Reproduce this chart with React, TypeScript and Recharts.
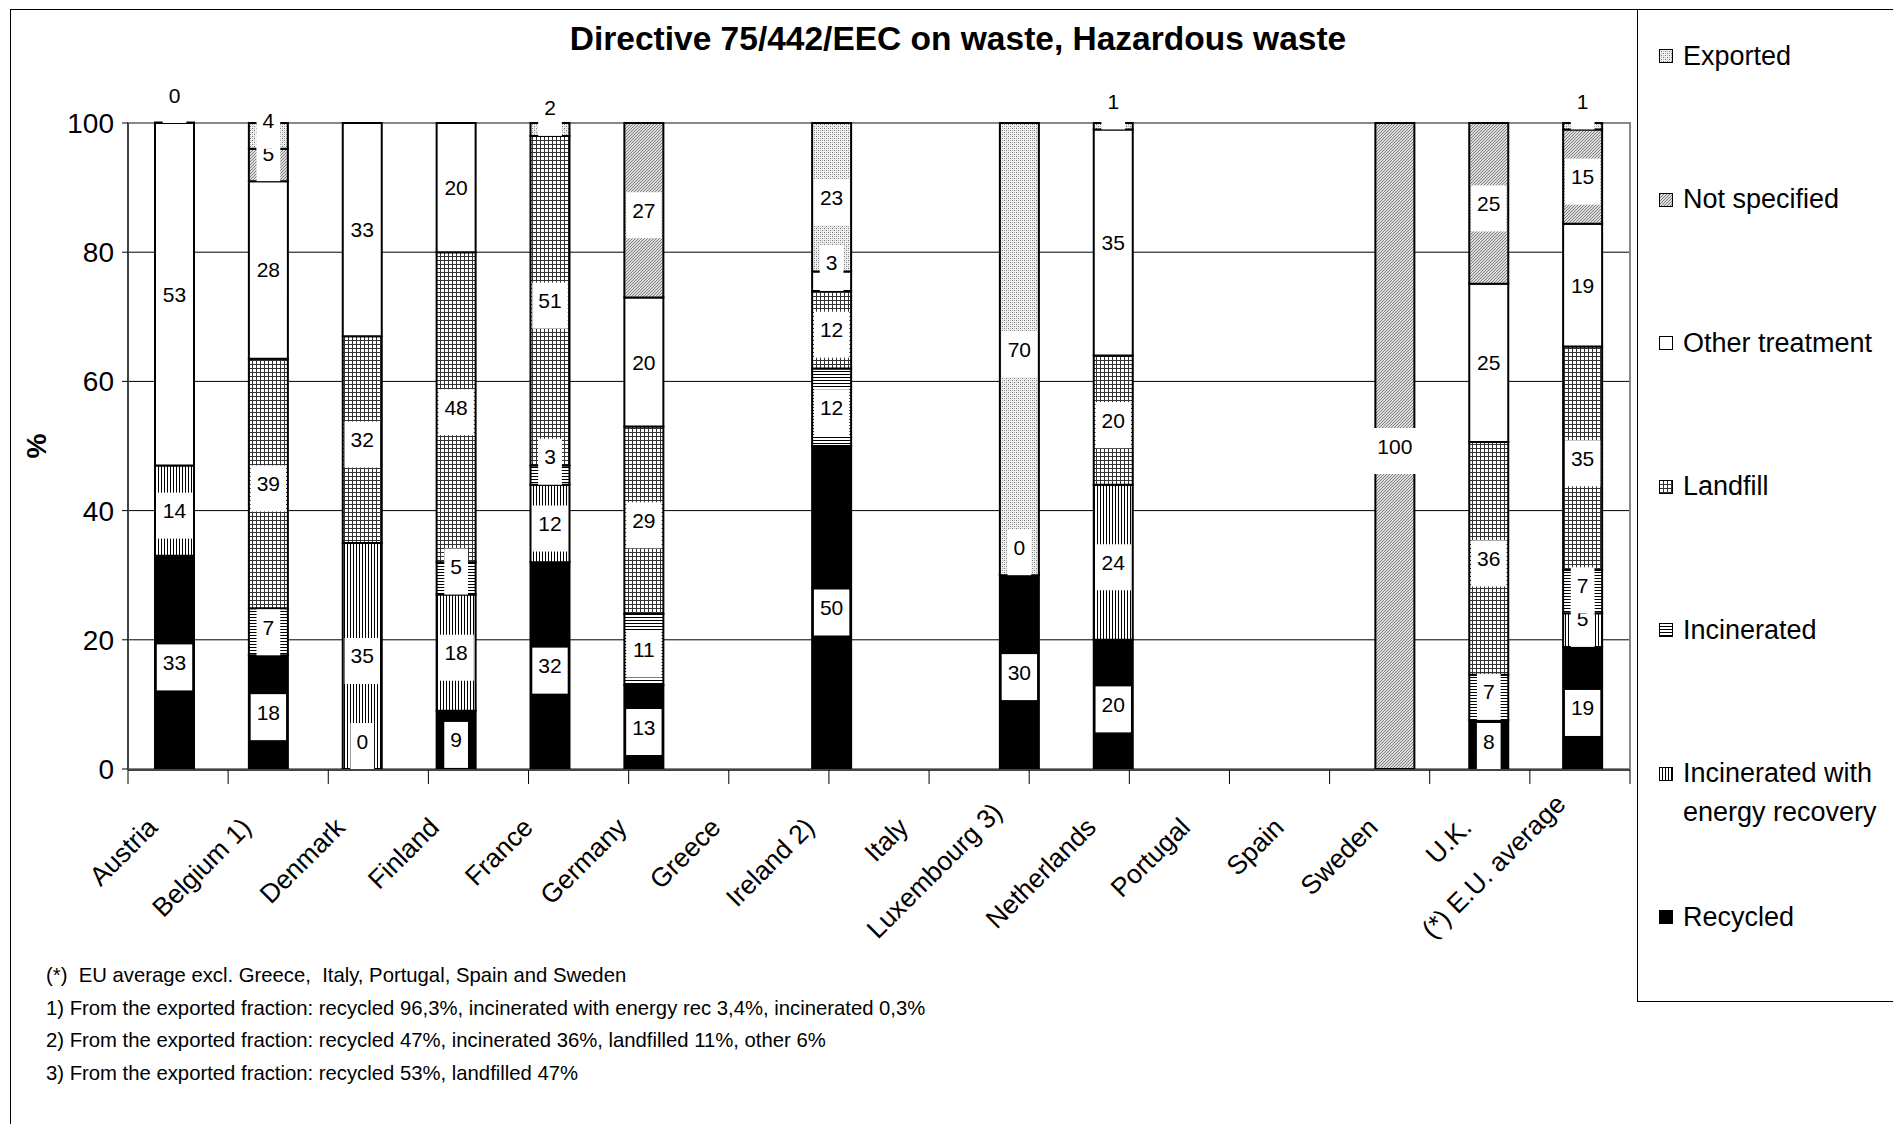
import {
  BarChart,
  Bar,
  XAxis,
  YAxis,
  CartesianGrid,
  LabelList,
  Legend,
  ReferenceArea,
} from "recharts";

const FONT = '"Liberation Sans", Arial, sans-serif';

// categories on the x axis
const categories = [
  "Austria",
  "Belgium 1)",
  "Denmark",
  "Finland",
  "France",
  "Germany",
  "Greece",
  "Ireland 2)",
  "Italy",
  "Luxembourg 3)",
  "Netherlands",
  "Portugal",
  "Spain",
  "Sweden",
  "U.K.",
  "(*) E.U. average",
];

// % per treatment, bottom of the stack first (null = no data)
const recycled = [33, 17.6, 0, 9, 32, 13, null, 50, null, 30, 20, null, null, null, 7.6, 18.9];
const incEnergy = [14, null, 35, 18, 12, null, null, null, null, null, 24, null, null, null, null, 5.2];
const incinerated = [null, 7.3, null, 5, 3, 11, null, 12, null, null, null, null, null, null, 7, 6.7];
const landfill = [null, 38.6, 32, 48, 51, 29, null, 12, null, 0, 20, null, null, null, 36, 34.6];
const otherTreatment = [53, 27.5, 33, 20, null, 20, null, 3, null, null, 35, null, null, null, 24.5, 19];
const notSpecified = [null, 5, null, null, null, 27, null, null, null, null, null, null, null, 100, 24.9, 14.6];
const exported = [0, 4, null, null, 2, null, null, 23, null, 70, 1, null, null, null, null, 1];

const yTicks = [0, 20, 40, 60, 80, 100];

const footnotes = [
  "(*)  EU average excl. Greece,  Italy, Portugal, Spain and Sweden",
  "1) From the exported fraction: recycled 96,3%, incinerated with energy rec 3,4%, incinerated 0,3%",
  "2) From the exported fraction: recycled 47%, incinerated 36%, landfilled 11%, other 6%",
  "3) From the exported fraction: recycled 53%, landfilled 47%",
];

const SERIES = [
  { key: "recycled", name: "Recycled", fill: "#000", values: recycled },
  { key: "incEnergy", name: "Incinerated with energy recovery", fill: "url(#pEnergy)", values: incEnergy },
  { key: "incinerated", name: "Incinerated", fill: "url(#pIncin)", values: incinerated },
  { key: "landfill", name: "Landfill", fill: "url(#pLand)", values: landfill },
  { key: "other", name: "Other treatment", fill: "#fff", values: otherTreatment },
  { key: "notSpecified", name: "Not specified", fill: "url(#pNotSpec)", values: notSpecified },
  { key: "exported", name: "Exported", fill: "url(#pExported)", values: exported },
];

const data = categories.map((name, i) => {
  const row: Record<string, any> = { name };
  SERIES.forEach((s) => (row[s.key] = s.values[i]));
  return row;
});

// tick marks sit between the categories
const edgeTicks = categories.map((_, i) => i).concat(categories.length);

// white box with the rounded value, pushed up when the segment is too thin
const renderLabel = (props: any) => {
  const { value } = props;
  if (value == null) return null;
  const vb = props.viewBox ?? props;
  const x = Number(vb.x ?? props.x);
  const y = Number(vb.y ?? props.y);
  const w = Number(vb.width ?? props.width);
  const h = Number(vb.height ?? props.height);
  const txt = String(Math.round(Number(value)));
  const cx = x + w / 2;
  const bottom = y + h;
  const ty = Math.min(y + h / 2, bottom - 28);
  const bw = txt.length * 11.7 + 12;
  return (
    <g>
      <rect x={cx - bw / 2} y={ty - 18} width={bw} height={46} fill="#fff" />
      <text
        x={cx}
        y={ty}
        textAnchor="middle"
        dominantBaseline="central"
        fontSize={21}
        fontFamily={FONT}
        fill="#000"
      >
        {txt}
      </text>
    </g>
  );
};

let measureCtx: CanvasRenderingContext2D | null = null;
const textWidth = (t: string, size: number) => {
  if (!measureCtx) measureCtx = document.createElement("canvas").getContext("2d");
  if (!measureCtx) return t.length * size * 0.5;
  measureCtx.font = `${size}px ${FONT}`;
  return measureCtx.measureText(t).width;
};

const CatTick = (props: any) => {
  const { x, y, payload } = props;
  const len = textWidth(String(payload.value), 26.5);
  // long labels get lifted so they stay above the footnotes
  const ax = x - 16;
  const ay = Math.min(y + 60, 932 - len * Math.SQRT1_2);
  return (
    <text
      x={ax}
      y={ay}
      transform={`rotate(-45 ${ax} ${ay})`}
      textAnchor="end"
      fontSize={26.5}
      fontFamily={FONT}
      fill="#000"
    >
      {payload.value}
    </text>
  );
};

const renderLegend = () => (
  <div style={{ fontFamily: FONT, fontSize: 27, color: "#000" }}>
    {[...SERIES].reverse().map((s) => (
      <div key={s.key} style={{ height: 143.5, display: "flex", alignItems: "flex-start" }}>
        <svg width={14} height={14} style={{ marginTop: 12.5, marginRight: 10, flex: "none" }}>
          <rect x={0.5} y={0.5} width={13} height={13} fill={s.fill} stroke="#000" />
        </svg>
        <div style={{ lineHeight: "39px", width: 205 }}>{s.name}</div>
      </div>
    ))}
  </div>
);

export default function App() {
  return (
    <div
      style={{
        position: "relative",
        width: 1885,
        height: 1116,
        overflow: "hidden",
        fontFamily: FONT,
        background: "#fff",
      }}
    >
      <svg width={0} height={0} style={{ position: "absolute" }}>
        <defs>
          <pattern id="pEnergy" patternUnits="userSpaceOnUse" width={3} height={3}>
            <rect width={3} height={3} fill="#fff" />
            <rect width={1} height={3} fill="#000" />
          </pattern>
          <pattern id="pIncin" patternUnits="userSpaceOnUse" width={3} height={3}>
            <rect width={3} height={3} fill="#fff" />
            <rect width={3} height={1} fill="#000" />
          </pattern>
          <pattern id="pLand" patternUnits="userSpaceOnUse" width={4} height={4}>
            <rect width={4} height={4} fill="#fff" />
            <rect width={4} height={1} fill="#333" />
            <rect width={1} height={4} fill="#333" />
          </pattern>
          <pattern id="pNotSpec" patternUnits="userSpaceOnUse" width={3} height={3}>
            <rect width={3} height={3} fill="#dcdcdc" />
            <path d="M0,3 L3,0" stroke="#808080" strokeWidth={1} />
          </pattern>
          <pattern id="pExported" patternUnits="userSpaceOnUse" width={4} height={4}>
            <rect width={4} height={4} fill="#f0f0f0" />
            <rect x={0} y={0} width={1} height={1} fill="#777" />
            <rect x={2} y={2} width={1} height={1} fill="#777" />
            <rect x={2} y={0} width={1} height={1} fill="#bbb" />
            <rect x={0} y={2} width={1} height={1} fill="#bbb" />
          </pattern>
        </defs>
      </svg>

      {/* outer frame and legend box */}
      <div
        style={{
          position: "absolute",
          left: 2,
          top: 1,
          width: 1900,
          height: 1200,
          borderLeft: "1px solid #000",
          borderTop: "1px solid #000",
        }}
      />
      <div
        style={{
          position: "absolute",
          left: 1629,
          top: 1,
          width: 400,
          height: 991,
          border: "1px solid #000",
        }}
      />

      <div
        style={{
          position: "absolute",
          left: 450,
          width: 1000,
          top: 11,
          lineHeight: "40px",
          textAlign: "center",
          fontSize: 33.5,
          fontWeight: "bold",
          color: "#000",
        }}
      >
        Directive 75/442/EEC on waste, Hazardous waste
      </div>

      <div style={{ position: "absolute", left: 0, top: 0 }}>
        <BarChart
          width={1640}
          height={1116}
          data={data}
          margin={{ top: 115, right: 18, left: 20, bottom: 338 }}
        >
          <CartesianGrid xAxisId="cat" vertical={false} stroke="#000" strokeWidth={1} />
          <ReferenceArea
            xAxisId="cat"
            y1={0}
            y2={100}
            fill="none"
            stroke="#888"
            strokeWidth={2}
          />
          <XAxis
            xAxisId="edges"
            type="number"
            domain={[0, categories.length]}
            allowDataOverflow
            ticks={edgeTicks}
            interval={0}
            height={16}
            tickSize={14}
            tick={() => <g />}
            axisLine={{ stroke: "#444", strokeWidth: 2 }}
            tickLine={{ stroke: "#000" }}
          />
          <XAxis
            xAxisId="cat"
            dataKey="name"
            height={1}
            interval={0}
            tickLine={false}
            axisLine={false}
            tickSize={0}
            tickMargin={0}
            tick={<CatTick />}
          />
          <YAxis
            domain={[0, 100]}
            ticks={yTicks}
            width={100}
            tickSize={6}
            tickMargin={8}
            axisLine={{ stroke: "#000" }}
            tickLine={{ stroke: "#000" }}
            tick={{ fill: "#000", fontSize: 28, fontFamily: FONT }}
            label={{
              value: "%",
              angle: -90,
              position: "insideLeft",
              offset: 8,
              style: { textAnchor: "middle", fontSize: 28, fontWeight: "bold", fill: "#000", fontFamily: FONT },
            }}
          />
          <Legend
            layout="vertical"
            align="center"
            verticalAlign="middle"
            content={renderLegend}
            wrapperStyle={{ left: 1651, top: 28.5, width: 240 }}
          />
          {SERIES.map((s) => (
            <Bar
              key={s.key}
              xAxisId="cat"
              dataKey={s.key}
              name={s.name}
              stackId="a"
              fill={s.fill}
              stroke="#000"
              strokeWidth={2}
              barSize={39}
              minPointSize={(_: any, i: number) => (s.values[i] === 0 ? 0.5 : 0)}
              isAnimationActive={false}
            >
              <LabelList dataKey={s.key} content={renderLabel} />
            </Bar>
          ))}
        </BarChart>
      </div>

      {footnotes.map((t, i) => (
        <div
          key={i}
          style={{
            position: "absolute",
            left: 38,
            top: 951 + i * 32.5,
            lineHeight: "32px",
            fontSize: 20.3,
            whiteSpace: "pre",
            color: "#000",
          }}
        >
          {t}
        </div>
      ))}
    </div>
  );
}
